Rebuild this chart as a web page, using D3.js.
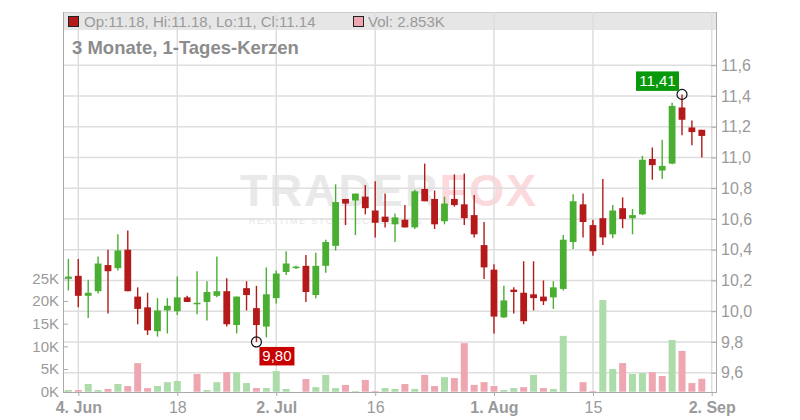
<!DOCTYPE html>
<html><head><meta charset="utf-8">
<script src="https://cdn.jsdelivr.net/npm/d3@7"></script>
<style>html,body{margin:0;padding:0;background:#fff;} svg{display:block;font-family:"Liberation Sans",Arial,sans-serif;}</style>
</head><body><svg id="chart" width="800" height="420"></svg>
<script>
// ---- data ----
const dates = [
 "2024-06-03","2024-06-04","2024-06-05","2024-06-06","2024-06-07","2024-06-10","2024-06-11","2024-06-12","2024-06-13","2024-06-14",
 "2024-06-17","2024-06-18","2024-06-19","2024-06-20","2024-06-21","2024-06-24","2024-06-25","2024-06-26","2024-06-27","2024-06-28",
 "2024-07-01","2024-07-02","2024-07-03","2024-07-04","2024-07-05","2024-07-08","2024-07-09","2024-07-10","2024-07-11","2024-07-12",
 "2024-07-15","2024-07-16","2024-07-17","2024-07-18","2024-07-19","2024-07-22","2024-07-23","2024-07-24","2024-07-25","2024-07-26",
 "2024-07-29","2024-07-30","2024-07-31","2024-08-01","2024-08-02","2024-08-05","2024-08-06","2024-08-07","2024-08-08","2024-08-09",
 "2024-08-12","2024-08-13","2024-08-14","2024-08-15","2024-08-16","2024-08-19","2024-08-20","2024-08-21","2024-08-22","2024-08-23",
 "2024-08-26","2024-08-27","2024-08-28","2024-08-29","2024-08-30"];
const nextDate = "2024-09-02";
const open = [10.21,10.23,10.10,10.13,10.30,10.28,10.40,10.095,10.025,9.87,
 10.005,10.00,10.09,10.045,10.06,10.10,10.13,9.91,10.15,10.02,
 9.90,10.085,10.255,10.28,10.295,10.105,10.295,10.425,10.73,10.72,
 10.745,10.655,10.615,10.565,10.595,10.545,10.795,10.73,10.585,10.73,
 10.695,10.625,10.43,10.27,9.96,10.14,10.12,10.11,10.095,10.09,
 10.145,10.45,10.695,10.56,10.605,10.50,10.67,10.605,10.63,10.99,
 10.915,10.96,11.325,11.195,11.18];
const high = [10.34,10.34,10.205,10.355,10.40,10.50,10.525,10.155,10.12,10.085,
 10.085,10.225,10.10,10.26,10.195,10.355,10.215,10.095,10.195,10.165,
 10.285,10.265,10.39,10.295,10.365,10.38,10.465,10.825,10.73,10.765,
 10.82,10.845,10.765,10.635,10.69,10.79,10.96,10.785,10.745,10.89,
 10.895,10.755,10.58,10.305,10.165,10.155,10.325,10.325,10.20,10.195,
 10.495,10.76,10.765,10.595,10.86,10.69,10.74,10.665,11.01,11.065,
 11.115,11.355,11.41,11.24,11.18];
const low = [10.135,10.025,9.955,10.115,9.985,10.265,10.13,9.915,9.845,9.835,
 9.855,9.975,10.06,9.98,9.94,10.09,9.90,9.855,10.005,9.80,
 9.83,10.05,10.235,10.275,10.06,10.085,10.25,10.395,10.56,10.495,
 10.63,10.48,10.545,10.45,10.545,10.535,10.715,10.535,10.565,10.68,
 10.56,10.48,10.21,9.855,9.955,9.985,9.915,10.005,10.04,10.015,
 10.135,10.405,10.48,10.36,10.43,10.475,10.54,10.50,10.625,10.855,
 10.86,10.955,11.145,11.08,11.00];
const close = [10.225,10.10,10.12,10.31,10.26,10.395,10.13,10.015,9.875,10.005,
 10.035,10.09,10.06,10.055,10.125,10.13,9.915,10.095,10.105,9.91,
 10.11,10.245,10.31,10.29,10.125,10.295,10.45,10.71,10.70,10.765,
 10.67,10.575,10.58,10.61,10.545,10.78,10.715,10.565,10.70,10.69,
 10.605,10.50,10.285,9.965,10.07,10.125,9.935,10.085,10.065,10.155,
 10.465,10.715,10.58,10.39,10.48,10.655,10.60,10.625,10.985,10.95,
 10.945,11.335,11.245,11.165,11.14];
const volume = [0.37,0.37,1.7,0.37,0.6,1.7,1.25,6.3,0.8,1.25,
 2.1,2.35,0,3.9,0.37,2.1,4.3,4.3,1.9,0.8,
 0.8,4.55,0.6,0,2.8,1.0,3.7,0.8,1.5,0.15,
 2.6,0.15,0.8,0.6,1.7,0.6,3.7,1.25,3.2,3.0,
 10.7,1.5,2.1,1.25,0.37,0.8,1.0,3.7,0.8,0.6,
 12.3,0,2.1,0.15,20.2,5.0,6.3,3.9,4.1,4.3,
 3.45,11.4,9.0,1.9,2.853]; // thousands
const priceTicks = [9.6,9.8,10.0,10.2,10.4,10.6,10.8,11.0,11.2,11.4,11.6];
const volumeTicks = [0,5,10,15,20,25];
const xTickDates = ["2024-06-04","2024-06-18","2024-07-02","2024-07-16","2024-08-01","2024-08-15","2024-09-02"];
const xTickLabels = ["4. Jun","18","2. Jul","16","1. Aug","15","2. Sep"];
const xTickBold = [true,false,true,false,true,false,true];
const titleText = "3 Monate, 1-Tages-Kerzen";

// ---- setup ----
const svg = d3.select("#chart");
const plotL = 63, plotR = 716, plotT = 12, plotB = 392;
const colUp = "#4aae33", colDown = "#b41a1a";
const volUp = "#acdcaa", volDown = "#eea7b0";
const gridCol = "#dedede", axisCol = "#aaaaaa", textCol = "#9a9a9a";
const de = d3.formatLocale({decimal: ",", thousands: ".", grouping: [3], currency: ["", "€"]});
const fmt1 = de.format(".1f"), fmt2 = de.format(".2f");

const x = d3.scalePoint().domain(dates.concat([nextDate])).range([68.4, 711.7]);
const y = d3.scaleLinear().domain([9.6, 11.6]).range([372.7, 65.2]);
const yv = d3.scaleLinear().domain([0, 25]).range([391.7, 278.3]);

const data = dates.map((d, i) => ({date: d, o: open[i], h: high[i], l: low[i], c: close[i], v: volume[i],
  up: close[i] >= open[i], vup: i === 0 ? close[i] >= open[i] : close[i] >= close[i-1]}));

// header band
svg.append("rect").attr("x", plotL).attr("y", plotT).attr("width", plotR - plotL).attr("height", 18).attr("fill", "#e6e6e6");
svg.append("line").attr("x1", plotL).attr("x2", plotR).attr("y1", plotT + 0.5).attr("y2", plotT + 0.5).attr("stroke", "#cccccc");

// watermark
const wm = svg.append("g");
const wt = wm.append("text").attr("x", 240).attr("y", 206).attr("font-size", 45).attr("font-weight", "bold").attr("letter-spacing", 2);
wt.append("tspan").attr("fill", "#e9e9e9").text("TRADER");
wt.append("tspan").attr("fill", "#fbd9dd").text("FOX");
wm.append("text").attr("x", 249).attr("y", 224).attr("font-size", 9).attr("letter-spacing", 1.7).attr("fill", "#e6e6e6").text("REALTIME STOCK SCREENING");

// gridlines
svg.append("g").selectAll("line").data(priceTicks).join("line")
  .attr("x1", plotL).attr("x2", plotR).attr("y1", d => y(d)).attr("y2", d => y(d))
  .attr("stroke", gridCol).attr("stroke-width", 1.5);
svg.append("g").selectAll("line").data(xTickDates).join("line")
  .attr("x1", d => x(d)).attr("x2", d => x(d)).attr("y1", plotT).attr("y2", plotB)
  .attr("stroke", gridCol).attr("stroke-width", 1.5);

// volume bars
svg.append("g").selectAll("rect").data(data.filter(d => d.v > 0)).join("rect")
  .attr("x", d => x(d.date) - 3.5).attr("width", 7)
  .attr("y", d => yv(d.v)).attr("height", d => yv(0) - yv(d.v))
  .attr("fill", d => d.vup ? volUp : volDown);

// candles
const cg = svg.append("g").selectAll("g").data(data).join("g");
cg.append("line").attr("x1", d => x(d.date)).attr("x2", d => x(d.date))
  .attr("y1", d => y(d.h)).attr("y2", d => y(d.l))
  .attr("stroke", d => d.up ? colUp : colDown).attr("stroke-width", 1.4);
cg.append("rect").attr("x", d => x(d.date) - 3.4).attr("width", 6.8)
  .attr("y", d => y(Math.max(d.o, d.c)))
  .attr("height", d => Math.max(1.5, Math.abs(y(d.o) - y(d.c))))
  .attr("fill", d => d.up ? colUp : colDown);

// axes
const axR = svg.append("g").attr("transform", `translate(${plotR},0)`)
  .call(d3.axisRight(y).tickValues(priceTicks).tickSize(-5).tickPadding(5).tickFormat(fmt1));
const axL = svg.append("g").attr("transform", `translate(${plotL},0)`)
  .call(d3.axisLeft(yv).tickValues(volumeTicks).tickSize(-5).tickPadding(4).tickFormat(d => d + "K"));
const axB = svg.append("g").attr("transform", `translate(0,${plotB})`)
  .call(d3.axisBottom(x).tickValues(xTickDates).tickSize(4).tickPadding(6).tickFormat((d, i) => xTickLabels[i]));
[axR, axL, axB].forEach(a => {
  a.select(".domain").remove();
  a.selectAll(".tick line").attr("stroke", axisCol);
  a.selectAll(".tick text").attr("fill", textCol).attr("font-family", "Liberation Sans, Arial, sans-serif");
});
axR.selectAll(".tick text").attr("font-size", 16);
axL.selectAll(".tick text").attr("font-size", 15);
axB.selectAll(".tick text").attr("font-size", 16).attr("font-weight", (d, i) => xTickBold[i] ? "bold" : "normal");

// frame lines
svg.append("line").attr("x1", plotL + 0.5).attr("x2", plotL + 0.5).attr("y1", plotT).attr("y2", plotB).attr("stroke", axisCol);
svg.append("line").attr("x1", plotR + 0.5).attr("x2", plotR + 0.5).attr("y1", plotT).attr("y2", plotB).attr("stroke", axisCol);
svg.append("line").attr("x1", plotL).attr("x2", plotR + 1).attr("y1", plotB + 0.5).attr("y2", plotB + 0.5).attr("stroke", axisCol);

// extreme markers
const lowIdx = d3.minIndex(low), highIdx = d3.maxIndex(high);
const lx = x(dates[lowIdx]), ly = y(low[lowIdx]);
const hx = x(dates[highIdx]), hy = y(high[highIdx]);
svg.append("circle").attr("cx", lx).attr("cy", ly).attr("r", 5).attr("fill", "none").attr("stroke", "#111").attr("stroke-width", 1.2);
svg.append("circle").attr("cx", hx).attr("cy", hy).attr("r", 5).attr("fill", "none").attr("stroke", "#111").attr("stroke-width", 1.2);
svg.append("rect").attr("x", lx + 3).attr("y", ly + 5).attr("width", 35).attr("height", 18.5).attr("fill", "#c80000");
svg.append("text").attr("x", lx + 20.5).attr("y", ly + 19.5).attr("text-anchor", "middle").attr("font-size", 15).attr("fill", "#fff").text(fmt2(low[lowIdx]));
svg.append("rect").attr("x", hx - 46).attr("y", hy - 23).attr("width", 43).attr("height", 19.5).attr("fill", "#0a990a");
svg.append("text").attr("x", hx - 24.5).attr("y", hy - 8.5).attr("text-anchor", "middle").attr("font-size", 15).attr("fill", "#fff").text(fmt2(high[highIdx]));

// legend & title
const last = data[data.length - 1];
svg.append("rect").attr("x", 68.5).attr("y", 16.5).attr("width", 10).attr("height", 10).attr("fill", colDown).attr("stroke", "#222");
svg.append("text").attr("x", 84).attr("y", 27).attr("font-size", 15).attr("fill", textCol)
  .text(`Op:${last.o}, Hi:${last.h}, Lo:${last.l}, Cl:${last.c}`);
svg.append("rect").attr("x", 353.5).attr("y", 16.5).attr("width", 10).attr("height", 10).attr("fill", volDown).attr("stroke", "#222");
svg.append("text").attr("x", 368).attr("y", 27).attr("font-size", 15).attr("fill", textCol).text(`Vol: ${last.v}K`);
svg.append("text").attr("x", 72).attr("y", 54.3).attr("font-size", 18.5).attr("font-weight", "bold").attr("fill", "#8c8c8c").text(titleText);
</script></body></html>
